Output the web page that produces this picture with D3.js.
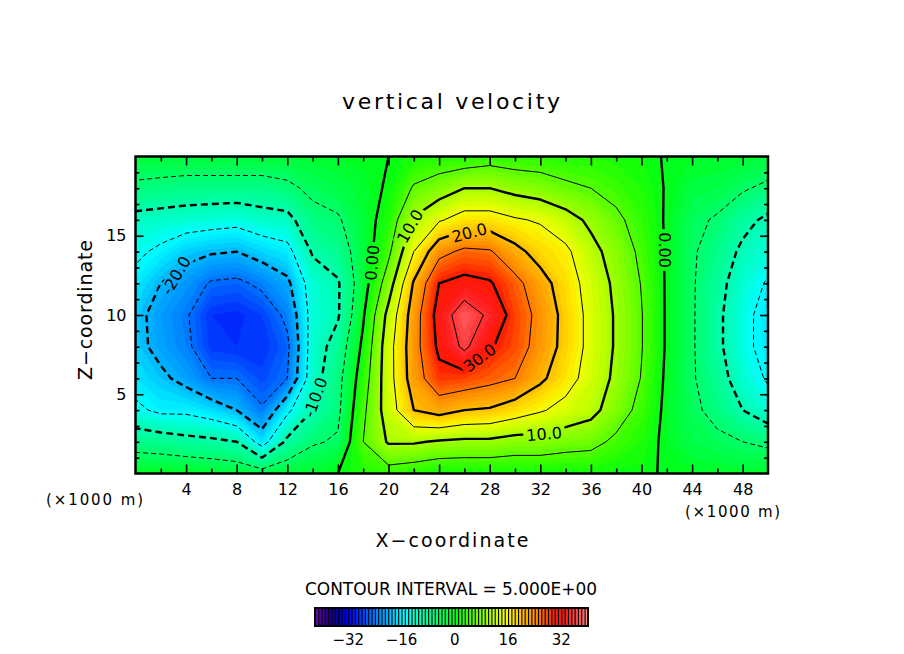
<!DOCTYPE html>
<html>
<head>
<meta charset="utf-8">
<script src="https://cdn.jsdelivr.net/npm/d3@7"></script>
<style>
body { margin: 0; background: #fff; }
text { font-family: "DejaVu Sans", sans-serif; fill: #000; }
</style>
</head>
<body>
<svg width="904" height="654"></svg>
<script>
// grid coordinates (x1000 m)
const xKm = [0, 2, 4, 6, 8, 10, 12, 14, 16, 18, 20, 22, 24, 26, 28, 30, 32, 34, 36, 38, 40, 42, 44, 46, 48, 50];
const zKm = [0, 2, 4, 6, 8, 10, 12, 14, 16, 18, 20];

// vertical velocity, one column per xKm, values from z=0 up to z=20
const wColumns = [
    [-1, -7, -14, -17, -18.5, -18.5, -16.5, -14, -11.5, -6, -2],
    [-1, -7.5, -16, -19, -21.5, -22, -20, -16, -12, -6.5, -2],
    [-1, -8.5, -16, -21.5, -24, -24.5, -22.5, -18.5, -12.5, -7, -2],
    [-1.5, -9, -17.5, -25, -28.5, -29, -25.5, -19.5, -13, -7, -2],
    [-2, -10, -20, -25, -29, -29.5, -26, -20, -13.5, -7, -2],
    [-3, -17, -24.5, -27.5, -29, -28, -24, -18, -12, -7, -2],
    [-2, -9, -16, -25, -26, -24, -21, -16.5, -11.5, -6, -2],
    [-1.5, -5.5, -10, -12, -12.5, -13, -12.5, -9.5, -6.5, -4, -1.5],
    [0, -4.5, -6, -6.5, -8, -10.5, -10.5, -7.5, -5.5, -3, -1],
    [2, 5, 4, 2.5, 1, -0.5, -2, -2.5, -2, -1.5, -0.5],
    [3, 10.5, 12.5, 13, 13, 11.5, 7.5, 4, 2, 0.5, 0],
    [2, 10.5, 20, 22.5, 23, 22.5, 20.5, 15, 10.5, 5.5, 1.5],
    [1, 9.5, 22, 28.5, 31, 32, 30, 23.5, 14.5, 7.5, 2],
    [1, 9, 20, 28, 36, 38, 31.5, 26, 17, 10, 2],
    [1, 9, 19.5, 26.5, 30.5, 34, 30.5, 25.5, 17, 10, 3],
    [1, 8, 17.5, 25, 27.5, 28, 26.5, 21.5, 15.5, 8.5, 2.5],
    [1, 8, 15.5, 21, 23, 23.5, 22, 18, 14.5, 7.5, 2.5],
    [1, 7, 13.5, 17, 18.5, 18.5, 17.5, 16, 12, 6, 2],
    [1, 6.5, 11.5, 13, 13.5, 13.5, 13, 11.5, 9, 5, 2],
    [0.5, 4, 7.5, 9, 9.5, 9.5, 9, 8, 6, 3.5, 1.5],
    [0.5, 2, 3.5, 4.8, 5.2, 5.2, 4.8, 4, 3, 2, 1],
    [-0.3, -1, -1, -0.8, -0.5, -0.5, -0.5, -0.5, -0.5, -0.3, -0.3],
    [-1, -3, -4, -4.5, -4.5, -4.5, -4.5, -4.5, -4, -2.5, -1],
    [-1, -4, -6.5, -8, -9, -9, -8.5, -7, -5.5, -3, -1],
    [-1.5, -5, -10, -12.5, -13.5, -13.5, -12.5, -11, -8.5, -4.5, -1.5],
    [-1, -6, -13, -15.5, -17, -17, -15.5, -13, -11, -6, -2]
];

const lineLevels = [-35, -30, -25, -20, -15, -10, -5, 0, 5, 10, 15, 20, 25, 30, 35];
const colorbarRange = [-42, 40];
const colorbarTicks = [-32, -16, 0, 16, 32];
const xTicks = [4, 8, 12, 16, 20, 24, 28, 32, 36, 40, 44, 48];
const xMinor = [2, 6, 10, 14, 18, 22, 26, 30, 34, 38, 42, 46];
const zTicks = [5, 10, 15];
const zMinor = [1, 2, 3, 4, 6, 7, 8, 9, 11, 12, 13, 14, 16, 17, 18, 19];

const colourValues = [-42, -40, -37, -35, -32, -29, -26, -23, -20, -17, -15, -12, -8, -4, 0, 3, 7, 11, 15, 17, 20, 24, 28, 30, 33, 36, 38, 40];
const colourHex = ['#7800b4', '#400096', '#1a0082', '#0000b4', '#0000f0', '#0030ff', '#0062ff', '#0090ff', '#00b4ff',
    '#00e6ff', '#00ffff', '#00ffc8', '#00ff96', '#00ff5a', '#00ff14', '#30ff00', '#78ff00', '#b4ff00', '#f0ff00',
    '#ffe600', '#ffbe00', '#ff8c00', '#ff4000', '#ff1800', '#ff1c1c', '#ff4040', '#ff5a5a', '#ff9696'];

// labels on the contour lines: text, x, z, rotation
const contourLabels = [
    ['0.00', 18.7, 13.3, -85],
    ['0.00', 41.8, 14.1, 90],
    ['10.0', 21.7, 15.6, -60],
    ['20.0', 26.4, 15.2, -15],
    ['30.0', 27.2, 7.3, -37],
    ['10.0', 32.3, 2.5, -5],
    ['-20.0', 3.2, 12.5, -60],
    ['-10.0', 14.2, 4.8, -70]
];

let svg = d3.select('svg');

let x = d3.scaleLinear().domain([0, 50]).range([135.5, 768]);
let z = d3.scaleLinear().domain([0, 20]).range([473.5, 156.5]);
let colour = d3.scaleLinear().domain(colourValues).range(colourHex).clamp(true);

let nx = xKm.length, nz = zKm.length;
let dx = xKm[1] - xKm[0], dz = zKm[1] - zKm[0];
let grid = [];
for (let j = 0; j < nz; j++) {
    for (let i = 0; i < nx; i++) grid.push(wColumns[i][j]);
}

let toPlot = d3.geoTransform({
    point: function(px, py) {
        this.stream.point(x(xKm[0] + (px - 0.5) * dx), z(zKm[0] + (py - 0.5) * dz));
    }
});
let path = d3.geoPath(toPlot);

let defs = svg.append('defs');
defs.append('clipPath').attr('id', 'plotClip')
    .append('rect')
    .attr('x', x(0)).attr('y', z(20))
    .attr('width', x(50) - x(0)).attr('height', z(0) - z(20));

// filled bands, one per unit
let bandLevels = d3.range(colorbarRange[0], colorbarRange[1]);
let bands = d3.contours().size([nx, nz]).thresholds(bandLevels)(grid);

let plot = svg.append('g').attr('clip-path', 'url(#plotClip)');
plot.append('g')
    .selectAll('path')
    .data(bands)
    .join('path')
    .attr('d', path)
    .attr('fill', d => colour(d.value + 0.5))
    .attr('stroke', d => colour(d.value + 0.5))
    .attr('stroke-width', 0.5);

// contour lines with gaps under the labels
let mask = defs.append('mask').attr('id', 'labelGaps')
    .attr('maskUnits', 'userSpaceOnUse')
    .attr('x', 0).attr('y', 0).attr('width', 904).attr('height', 654);
mask.append('rect').attr('width', 904).attr('height', 654).attr('fill', '#fff');

let lines = d3.contours().size([nx, nz]).thresholds(lineLevels)(grid);
plot.append('g')
    .attr('mask', 'url(#labelGaps)')
    .selectAll('path')
    .data(lines)
    .join('path')
    .attr('d', path)
    .attr('fill', 'none')
    .attr('stroke', '#000')
    .attr('stroke-linejoin', 'round')
    .attr('stroke-width', d => d.value % 10 === 0 ? 2.4 : 1)
    .attr('stroke-dasharray', d => d.value < 0 ? (d.value % 10 === 0 ? '7,4' : '5,3') : null);

let labelG = svg.append('g');
contourLabels.forEach(l => {
    let t = labelG.append('text')
        .attr('transform', `translate(${x(l[1])},${z(l[2])}) rotate(${l[3]})`)
        .attr('text-anchor', 'middle')
        .attr('dy', '0.36em')
        .attr('font-size', 16)
        .text(l[0]);
    let w = t.node().getComputedTextLength() + 6;
    mask.append('rect')
        .attr('transform', `translate(${x(l[1])},${z(l[2])}) rotate(${l[3]})`)
        .attr('x', -w / 2).attr('y', -8)
        .attr('width', w).attr('height', 16)
        .attr('fill', '#000');
});

// axes, ticks pointing inward
let styleAxis = g => {
    g.select('.domain').remove();
    g.selectAll('line').attr('stroke-width', 1.6);
    g.attr('font-family', '"DejaVu Sans", sans-serif').attr('font-size', 16);
};

svg.append('g').attr('transform', `translate(0,${z(0)})`)
    .call(d3.axisBottom(x).tickValues(xTicks).tickSize(-9).tickPadding(10))
    .call(styleAxis);
svg.append('g').attr('transform', `translate(0,${z(0)})`)
    .call(d3.axisBottom(x).tickValues(xMinor).tickSize(-5).tickFormat(''))
    .call(styleAxis);
svg.append('g').attr('transform', `translate(0,${z(20)})`)
    .call(d3.axisTop(x).tickValues(xTicks).tickSize(-9).tickFormat(''))
    .call(styleAxis);
svg.append('g').attr('transform', `translate(0,${z(20)})`)
    .call(d3.axisTop(x).tickValues(xMinor).tickSize(-5).tickFormat(''))
    .call(styleAxis);

svg.append('g').attr('transform', `translate(${x(0)},0)`)
    .call(d3.axisLeft(z).tickValues(zTicks).tickSize(-8).tickPadding(9))
    .call(styleAxis);
svg.append('g').attr('transform', `translate(${x(0)},0)`)
    .call(d3.axisLeft(z).tickValues(zMinor).tickSize(-4).tickFormat(''))
    .call(styleAxis);
svg.append('g').attr('transform', `translate(${x(50)},0)`)
    .call(d3.axisRight(z).tickValues(zTicks).tickSize(-8).tickFormat(''))
    .call(styleAxis);
svg.append('g').attr('transform', `translate(${x(50)},0)`)
    .call(d3.axisRight(z).tickValues(zMinor).tickSize(-4).tickFormat(''))
    .call(styleAxis);

svg.append('rect')
    .attr('x', x(0)).attr('y', z(20))
    .attr('width', x(50) - x(0)).attr('height', z(0) - z(20))
    .attr('fill', 'none').attr('stroke', '#000').attr('stroke-width', 2.5);

// titles
svg.append('text').attr('x', 451).attr('y', 109).attr('text-anchor', 'middle')
    .attr('font-size', 22).attr('textLength', 218).attr('lengthAdjust', 'spacing')
    .text('vertical velocity');
svg.append('text').attr('x', 452).attr('y', 547).attr('text-anchor', 'middle')
    .attr('font-size', 19).attr('textLength', 153).attr('lengthAdjust', 'spacing')
    .text('X\u2212coordinate');
svg.append('text').attr('transform', 'translate(92,310) rotate(-90)').attr('text-anchor', 'middle')
    .attr('font-size', 19).attr('textLength', 140).attr('lengthAdjust', 'spacing')
    .text('Z\u2212coordinate');
svg.append('text').attr('x', 46).attr('y', 505)
    .attr('font-size', 15).attr('textLength', 97).attr('lengthAdjust', 'spacing')
    .text('(\u00d71000 m)');
svg.append('text').attr('x', 685).attr('y', 517)
    .attr('font-size', 15).attr('textLength', 95).attr('lengthAdjust', 'spacing')
    .text('(\u00d71000 m)');
svg.append('text').attr('x', 451).attr('y', 595).attr('text-anchor', 'middle')
    .attr('font-size', 17).attr('textLength', 292).attr('lengthAdjust', 'spacing')
    .text('CONTOUR INTERVAL = 5.000E+00');

// colour bar
let cb = d3.scaleLinear().domain(colorbarRange).range([315, 588]);
let cbY = 608, cbH = 18;
svg.append('rect').attr('x', cb(colorbarRange[0])).attr('y', cbY)
    .attr('width', cb(colorbarRange[1]) - cb(colorbarRange[0])).attr('height', cbH)
    .attr('fill', '#000');
svg.append('g')
    .selectAll('rect')
    .data(bandLevels)
    .join('rect')
    .attr('x', d => cb(d) + 1)
    .attr('y', cbY)
    .attr('width', d => cb(d + 1) - cb(d) - 1.1)
    .attr('height', cbH)
    .attr('fill', d => colour(d + 0.5));
svg.append('rect').attr('x', cb(colorbarRange[0])).attr('y', cbY)
    .attr('width', cb(colorbarRange[1]) - cb(colorbarRange[0])).attr('height', cbH)
    .attr('fill', 'none').attr('stroke', '#000').attr('stroke-width', 2);
svg.append('g')
    .selectAll('text')
    .data(colorbarTicks)
    .join('text')
    .attr('x', d => cb(d))
    .attr('y', 645)
    .attr('text-anchor', 'middle')
    .attr('font-size', 15)
    .text(d => d < 0 ? '\u2212' + Math.abs(d) : d);
</script>
</body>
</html>
